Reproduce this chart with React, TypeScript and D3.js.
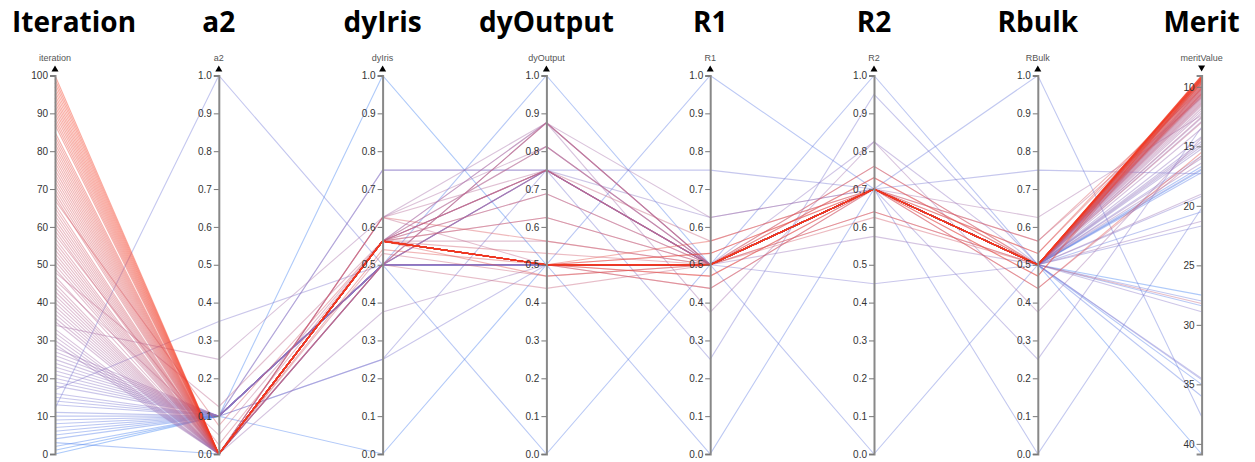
import { useEffect, useRef } from 'react';
import * as d3 from 'd3';

const width = 1255;
const height = 462;
const plotTop = 75.5;
const plotBottom = 454;
const plotLeft = 55;
const plotRight = 1201.6;

const dimensions = ['iteration', 'a2', 'dyIris', 'dyOutput', 'R1', 'R2', 'RBulk', 'meritValue'];
const titles = ['Iteration', 'a2', 'dyIris', 'dyOutput', 'R1', 'R2', 'Rbulk', 'Merit'];

// one entry per run of the optimisation (run 86 is missing)
const iteration = [
  0, 1, 2, 3, 4, 5, 6, 7, 8, 9,
  10, 11, 12, 13, 14, 15, 16, 17, 18, 19,
  20, 21, 22, 23, 24, 25, 26, 27, 28, 29,
  30, 31, 32, 33, 34, 35, 36, 37, 38, 39,
  40, 41, 42, 43, 44, 45, 46, 47, 48, 49,
  50, 51, 52, 53, 54, 55, 56, 57, 58, 59,
  60, 61, 62, 63, 64, 65, 66, 67, 68, 69,
  70, 71, 72, 73, 74, 75, 76, 77, 78, 79,
  80, 81, 82, 83, 84, 85, 87, 88, 89, 90,
  91, 92, 93, 94, 95, 96, 97, 98, 99, 100,
];

const a2 = [
  0.1, 0.1, 0.1, 0, 0.1, 0.1, 0.1, 0.1, 0.1, 0.1,
  0.1, 0.1, 1, 0.1, 0.1, 0.1, 0.1, 0.35, 0.1, 0.1,
  0.1, 0.1, 0.1, 0.1, 0.1, 0.1, 0.1, 0.1, 0.1, 0,
  0, 0, 0, 0, 0.25, 0, 0, 0, 0, 0,
  0, 0, 0, 0, 0, 0, 0.05, 0, 0.125, 0,
  0, 0, 0, 0, 0, 0, 0, 0, 0.025, 0,
  0, 0, 0, 0, 0, 0, 0, 0.075, 0, 0,
  0, 0, 0, 0, 0, 0, 0, 0, 0, 0,
  0, 0, 0, 0, 0, 0, 0, 0, 0, 0,
  0, 0, 0, 0, 0, 0, 0, 0, 0, 0,
];

const dyIris = [
  0.5, 1, 0, 0.5, 0.5, 0.5, 0.5, 0.5, 0.5, 0.5,
  0.5, 0.5, 0.5, 0.5, 0.75, 0.25, 0.25, 0.5, 0.5, 0.5,
  0.5, 0.5, 0.5, 0.5, 0.5, 0.5, 0.75, 0.5, 0.5, 0.375,
  0.5, 0.5625, 0.5, 0.5625, 0.625, 0.5625, 0.5625, 0.625, 0.5625, 0.5,
  0.5625, 0.5625, 0.5625, 0.625, 0.5, 0.5625, 0.5625, 0.5625, 0.5625, 0.5625,
  0.625, 0.5625, 0.5, 0.5625, 0.5625, 0.5, 0.5625, 0.5625, 0.5625, 0.53,
  0.5625, 0.5625, 0.5625, 0.5625, 0.5625, 0.5625, 0.5625, 0.5625, 0.5625, 0.5625,
  0.625, 0.5625, 0.5625, 0.5625, 0.5625, 0.5625, 0.54, 0.5625, 0.5625, 0.5625,
  0.5625, 0.5625, 0.5625, 0.5625, 0.5625, 0.5625, 0.5625, 0.5625, 0.5625, 0.5625,
  0.5625, 0.5625, 0.5625, 0.5625, 0.5625, 0.5625, 0.5625, 0.5625, 0.5625, 0.5625,
];

const dyOutput = [
  0.5, 0.5, 0.5, 0.5, 1, 0, 0.5, 0.5, 0.5, 0.5,
  0.5, 0.5, 0.5, 0.5, 0.75, 0.75, 0.5, 0.5, 0.75, 0.5,
  0.5, 0.75, 0.5, 0.75, 0.5, 0.5, 0.75, 0.5, 0.5, 0.5,
  0.75, 0.75, 0.875, 0.875, 0.875, 0.8125, 0.75, 0.8125, 0.875, 0.75,
  0.6875, 0.5, 0.625, 0.75, 0.875, 0.5625, 0.5, 0.75, 0.75, 0.8125,
  0.5, 0.5, 0.875, 0.5, 0.75, 0.4375, 0.5, 0.6875, 0.5, 0.47,
  0.5, 0.5, 0.5, 0.53, 0.5, 0.625, 0.5, 0.5, 0.5, 0.5,
  0.5625, 0.5, 0.5, 0.5, 0.5, 0.5, 0.5, 0.5, 0.5, 0.47,
  0.5, 0.5, 0.5, 0.5, 0.5, 0.5, 0.5, 0.5, 0.5, 0.5,
  0.5, 0.5, 0.5, 0.5, 0.5, 0.5, 0.5, 0.5, 0.5, 0.5,
];

const r1 = [
  0.5, 0.5, 0.5, 0.5, 0.5, 0.5, 1, 0, 0.5, 0.5,
  0.5, 0.5, 0.5, 0.5, 0.75, 0.25, 0.5, 0.5, 0.5, 0.5,
  0.5, 0.625, 0.5, 0.5, 0.5, 0.5, 0.5, 0.5, 0.5, 0.5,
  0.5, 0.5, 0.375, 0.5, 0.625, 0.5, 0.5, 0.5, 0.5, 0.5,
  0.5, 0.5, 0.5, 0.5, 0.5, 0.5, 0.5, 0.5, 0.5, 0.5,
  0.5, 0.4375, 0.5, 0.5, 0.5625, 0.5, 0.5, 0.5, 0.5, 0.5,
  0.53, 0.5, 0.5, 0.5, 0.47, 0.5, 0.5, 0.5, 0.5, 0.5,
  0.5, 0.5, 0.5, 0.4375, 0.5, 0.5, 0.5, 0.5, 0.5, 0.5,
  0.5, 0.5, 0.5625, 0.5, 0.5, 0.5, 0.5, 0.5, 0.5, 0.47,
  0.5, 0.5, 0.5, 0.5, 0.5, 0.5, 0.53, 0.5, 0.5, 0.5,
];

const r2 = [
  0.7, 0.7, 0.7, 0.7, 0.7, 0.7, 0.7, 0.7, 1, 0,
  0.7, 0.7, 0.7, 0.7, 0.7, 0.95, 0.45, 0.7, 0.7, 0.7,
  0.7, 0.7, 0.7, 0.825, 0.7, 0.7, 0.7, 0.575, 0.7, 0.7,
  0.7, 0.7, 0.825, 0.7, 0.7, 0.7, 0.7, 0.7, 0.7, 0.7,
  0.7, 0.7, 0.7, 0.7, 0.7, 0.7, 0.7, 0.7, 0.7, 0.7,
  0.7, 0.7, 0.76, 0.7, 0.7, 0.7, 0.64, 0.7, 0.7, 0.7,
  0.7, 0.73, 0.7, 0.7, 0.7, 0.625, 0.7, 0.7, 0.7, 0.7,
  0.7, 0.7, 0.7, 0.7, 0.76, 0.7, 0.7, 0.64, 0.7, 0.7,
  0.7, 0.7, 0.7, 0.7, 0.73, 0.7, 0.7, 0.7, 0.7, 0.7,
  0.7, 0.7, 0.7, 0.7, 0.7, 0.7, 0.7, 0.7, 0.7, 0.7,
];

const rBulk = [
  0.5, 0.5, 0.5, 0.5, 0.5, 0.5, 0.5, 0.5, 0.5, 0.5,
  1, 0, 0.5, 0.5, 0.75, 0.5, 0.5, 0.5, 0.25, 0.5,
  0.5, 0.5, 0.5, 0.5, 0.5, 0.5, 0.5, 0.5, 0.5, 0.5,
  0.5, 0.5, 0.375, 0.5, 0.625, 0.5, 0.5, 0.5, 0.5, 0.5,
  0.5, 0.5, 0.5, 0.5, 0.5, 0.5, 0.5, 0.5, 0.5, 0.5,
  0.5625, 0.5, 0.5, 0.4375, 0.5, 0.5, 0.5, 0.5, 0.5, 0.5,
  0.5, 0.5, 0.53, 0.5, 0.5, 0.5, 0.47, 0.5, 0.5, 0.5,
  0.5, 0.5625, 0.5, 0.5, 0.5, 0.5, 0.5, 0.5, 0.5, 0.5,
  0.4375, 0.5, 0.5, 0.5, 0.5, 0.5, 0.53, 0.5, 0.5, 0.5,
  0.5, 0.5, 0.47, 0.5, 0.5, 0.5, 0.5, 0.5, 0.5, 0.5,
];

const meritValue = [
  17.0, 27.5, 40.85, 16.7, 35.0, 28.4, 17.2, 36.0, 20.5, 28.0,
  37.7, 20.2, 34.6, 16.9, 17.3, 21.7, 34.5, 19.2, 13.4, 15.8,
  28.9, 15.2, 14.6, 15.0, 14.2, 14.8, 16.0, 21.3, 19.0, 16.4,
  13.5, 12.9, 14.3, 12.6, 12.4, 12.2, 12.0, 11.8, 11.5, 12.5,
  11.3, 11.0, 11.2, 11.6, 10.8, 10.9, 11.1, 10.6, 13.0, 10.5,
  10.9, 11.4, 10.7, 15.8, 10.4, 28.2, 10.6, 10.2, 10.3, 10.8,
  10.1, 10.2, 10.0, 9.9, 10.3, 10.5, 10.1, 10.7, 9.8, 9.9,
  10.4, 10.2, 9.7, 10.6, 10.0, 9.6, 9.7, 10.1, 9.5, 9.8,
  15.5, 9.5, 9.7, 9.4, 9.6, 9.4, 9.5, 9.3, 9.35, 9.5,
  9.3, 9.25, 9.4, 9.2, 9.2, 9.15, 9.3, 9.1, 9.1, 9.05,
];

export default function App() {
  const ref = useRef<SVGSVGElement>(null);

  useEffect(() => {
    const svg = d3.select(ref.current);
    svg.selectAll('*').remove();

    const columns: Record<string, number[]> = {
      iteration,
      a2,
      dyIris,
      dyOutput,
      R1: r1,
      R2: r2,
      RBulk: rBulk,
      meritValue,
    };

    const x = d3.scalePoint<string>().domain(dimensions).range([plotLeft, plotRight]);

    // merit axis is flipped: lower (better) values at the top
    const y: Record<string, d3.ScaleLinear<number, number>> = {};
    dimensions.forEach((d) => {
      const ext = d3.extent(columns[d]) as [number, number];
      y[d] = d3
        .scaleLinear()
        .domain(ext)
        .range(d === 'meritValue' ? [plotTop, plotBottom] : [plotBottom, plotTop]);
    });

    const color = d3
      .scaleLinear<string>()
      .domain(d3.extent(iteration) as [number, number])
      .range(['#3a80f2', '#f5361c'])
      .interpolate(d3.interpolateLab);

    const line = d3.line<[number, number]>();

    svg
      .append('g')
      .attr('class', 'foreground')
      .selectAll('path')
      .data(iteration.map((_, i) => i))
      .join('path')
      .attr('d', (i) => line(dimensions.map((d) => [x(d) as number, y[d](columns[d][i])])))
      .attr('fill', 'none')
      .attr('stroke', (i) => color(iteration[i]))
      .attr('stroke-opacity', 0.42)
      .attr('stroke-width', 1.1);

    dimensions.forEach((d, k) => {
      const g = svg
        .append('g')
        .attr('class', 'dimension')
        .attr('transform', `translate(${x(d)},0)`)
        .call(d3.axisLeft(y[d]).tickSize(5).tickPadding(2));

      g.attr('font-family', 'Arial, "Liberation Sans", sans-serif').attr('font-size', 10).attr('color', '#333');
      g.select('.domain').attr('stroke', '#888').attr('stroke-width', 2);
      g.selectAll('.tick line').attr('stroke', '#777');

      g.append('text')
        .attr('y', 61)
        .attr('text-anchor', 'middle')
        .attr('fill', '#555')
        .attr('font-size', 9)
        .text(d);

      g.append('path')
        .attr('d', d === 'meritValue' ? 'M-3.5,65.5L3.5,65.5L0,71.5Z' : 'M-3.5,71.5L3.5,71.5L0,65.5Z')
        .attr('fill', '#000');

      svg
        .append('text')
        .attr('x', k === 0 ? 12 : (x(d) as number))
        .attr('y', 32)
        .attr('text-anchor', k === 0 ? 'start' : 'middle')
        .attr('font-family', '"Open Sans", sans-serif')
        .attr('font-weight', 700)
        .attr('font-size', 28)
        .attr('fill', '#000')
        .text(titles[k]);
    });
  }, []);

  return (
    <svg
      ref={ref}
      width={width}
      height={height}
      style={{ position: 'absolute', left: 0, top: 0, background: '#fff' }}
    />
  );
}
